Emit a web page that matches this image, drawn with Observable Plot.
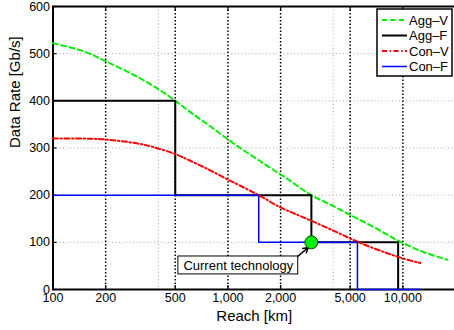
<!DOCTYPE html>
<html>
<head>
<meta charset="utf-8">
<script src="https://cdn.jsdelivr.net/npm/d3@7"></script>
<script src="https://cdn.jsdelivr.net/npm/@observablehq/plot@0.6"></script>
<style>
  html, body { margin: 0; padding: 0; background: #fff; }
  svg { font-family: "Liberation Sans", Arial, sans-serif; display: block; }
</style>
</head>
<body>
<div id="chart"></div>
<script>
// ---- data ----
const seriesNames = ["Agg–V", "Agg–F", "Con–V", "Con–F"];
const seriesColors = ["#00ee00", "#000000", "#ff0000", "#0000ff"];

// Agg-V (green dashed curve): [reach km, rate Gb/s]
const aggV = [[100,522],[150,505],[200,484],[300,452],[412,422],[500,400],[610,376],[800,345],[1074,310],[1500,274],[2175,235],[3000,200],[4000,177],[5000,158],[6300,139],[8000,118],[9700,101],[13000,80],[18000,63]];
// Agg-F (black step)
const aggF = [[100,400],[500,400],[500,200],[3000,200],[3000,100],[9400,100],[9400,0]];
// Con-V (red dash-dot curve)
const conV = [[100,320],[150,320],[200,318],[300,310],[375,302],[500,287],[584,276],[760,256],[1000,233],[1177,220],[1500,200],[2000,174],[2700,153],[4000,125],[5600,100],[8000,78],[10000,66],[12600,56]];
// Con-F (blue step)
const conF = [[100,200],[1500,200],[1500,100],[5500,100],[5500,0],[12500,0]];

const xTicks = [100, 200, 500, 1000, 2000, 5000, 10000];
const xTickLabels = ["100", "200", "500", "1,000", "2,000", "5,000", "10,000"];
const yTicks = [0, 100, 200, 300, 400, 500, 600];
const xMajorGrid = [200, 500, 1000, 2000, 5000, 10000];
const xMinorGrid = [400, 4000];

const currentTech = [{x: 3000, y: 100}];
const annotText = "Current technology";
const annotBox = [{x1: 521, x2: 2523, y1: 32, y2: 70, tx: 1147, ty: 51}];
const annotArrow = [{x1: 2430, y1: 66, x2: 2880, y2: 89}];

// ---- build ----
const toRows = arr => arr.map(([x, y]) => ({x, y}));
const labelMap = new Map(xTicks.map((t, i) => [t, xTickLabels[i]]));
const font = "Liberation Sans, Arial, sans-serif";

const plot = Plot.plot({
  width: 454,
  height: 330,
  marginLeft: 52.5,
  marginRight: -1,
  marginTop: 6,
  marginBottom: 41,
  style: {fontFamily: font, background: "#fff"},
  x: {type: "log", domain: [100, 20000]},
  y: {domain: [0, 600]},
  marks: [
    // grid
    Plot.ruleY(yTicks.slice(1, -1), {stroke: "#aaa", strokeDasharray: "1,2.5", strokeWidth: 1}),
    Plot.ruleX(xMinorGrid, {stroke: "#aaa", strokeDasharray: "1,2.5", strokeWidth: 1}),
    Plot.ruleX(xMajorGrid, {stroke: "#000", strokeDasharray: "1.5,2", strokeWidth: 1.5}),
    // frame
    Plot.frame({stroke: "#000", strokeWidth: 2}),
    // axes: labels
    Plot.axisX({ticks: xTicks, tickFormat: d => labelMap.get(d), tickSize: 0, tickPadding: 4, label: null, fontSize: 12.5, fill: "#000"}),
    Plot.axisY({ticks: yTicks, tickSize: 0, tickPadding: 3, label: null, fontSize: 12.5, fill: "#000"}),
    // axes: inward ticks
    Plot.axisX({ticks: xTicks, tickFormat: () => "", tickSize: -4, label: null, strokeWidth: 1.2}),
    Plot.axisX({anchor: "top", ticks: xTicks, tickFormat: () => "", tickSize: -4, label: null, strokeWidth: 1.2}),
    Plot.axisY({ticks: yTicks, tickFormat: () => "", tickSize: -4, label: null, strokeWidth: 1.2}),
    // series
    Plot.line(toRows(aggV), {x: "x", y: "y", stroke: seriesColors[0], strokeWidth: 2, strokeDasharray: "5,3.5", curve: "catmull-rom"}),
    Plot.line(toRows(aggF), {x: "x", y: "y", stroke: seriesColors[1], strokeWidth: 2}),
    Plot.line(toRows(conV), {x: "x", y: "y", stroke: seriesColors[2], strokeWidth: 2, strokeDasharray: "5,2.5,1.5,2.5", curve: "catmull-rom"}),
    Plot.line(toRows(conF), {x: "x", y: "y", stroke: seriesColors[3], strokeWidth: 1.5}),
    // annotation
    Plot.arrow(annotArrow, {x1: "x1", y1: "y1", x2: "x2", y2: "y2", stroke: "#000", strokeWidth: 1.5, headLength: 8}),
    Plot.rect(annotBox, {x1: "x1", x2: "x2", y1: "y1", y2: "y2", fill: "#fff", stroke: "#000", strokeWidth: 1}),
    Plot.text(annotBox, {x: "tx", y: "ty", text: () => annotText, fontSize: 13, fill: "#000"}),
    Plot.dot(currentTech, {x: "x", y: "y", r: 6.5, fill: "#00ee00", stroke: "#114411", strokeWidth: 1}),
    // axis titles
    Plot.text(["Reach [km]"], {frameAnchor: "bottom", dy: 31, fontSize: 15, fill: "#000"}),
    Plot.text(["Data Rate [Gb/s]"], {frameAnchor: "left", dx: -38, rotate: -90, fontSize: 15, fill: "#000"})
  ]
});

// legend (inside the plot, top-right)
const svg = d3.select(plot);
const lg = svg.append("g").attr("transform", "translate(377,9)");
lg.append("rect").attr("width", 75).attr("height", 67).attr("fill", "#fff").attr("stroke", "#000").attr("stroke-width", 1.5);
const dashes = ["5,3.5", null, "5,2.5,1.5,2.5", null];
const widths = [2, 2, 2, 1.5];
seriesNames.forEach((name, i) => {
  const yy = 11 + i * 15.5;
  lg.append("line").attr("x1", 5).attr("x2", 30).attr("y1", yy).attr("y2", yy)
    .attr("stroke", seriesColors[i]).attr("stroke-width", widths[i])
    .attr("stroke-dasharray", dashes[i]);
  lg.append("text").attr("x", 32).attr("y", yy).attr("dy", "0.35em")
    .attr("text-anchor", "start")
    .attr("font-size", 13).attr("font-family", font).attr("fill", "#000").text(name);
});

document.getElementById("chart").appendChild(plot);
</script>
</body>
</html>
